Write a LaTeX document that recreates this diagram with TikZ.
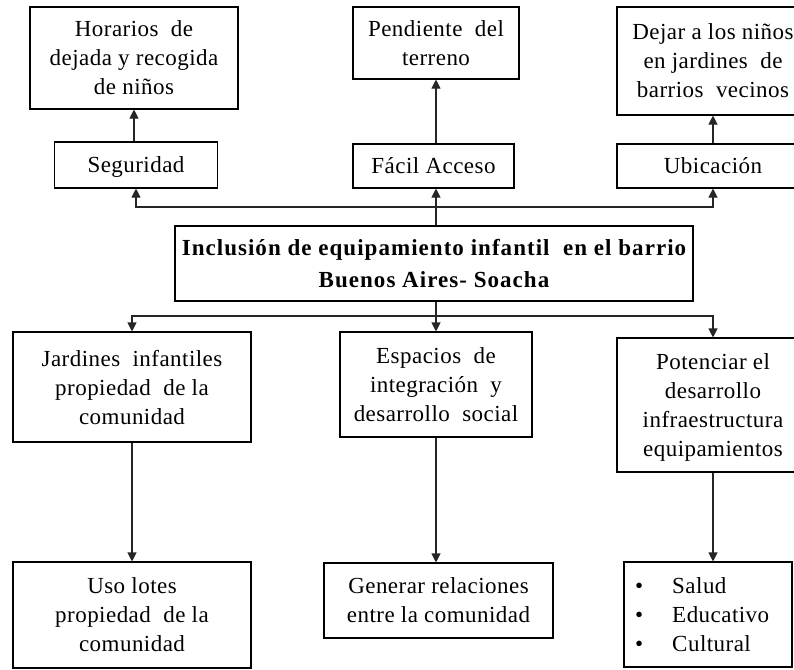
\documentclass[tikz,border=0pt]{standalone}
\usepackage{fontspec}
\setmainfont{Liberation Serif}[LetterSpace=2]
\newfontfamily\titlefont{Liberation Serif}[LetterSpace=4.5]
\usetikzlibrary{arrows.meta}
\begin{document}
\begin{tikzpicture}[x=1pt,y=-1pt,
  box/.style={draw, line width=1.1pt, inner sep=0pt, align=center, text depth=0pt,
    font=\fontsize{23}{29}\selectfont},
  conn/.style={line width=1.1pt, draw=black!85},
  arr/.style={conn, -{Triangle[length=9pt,width=9pt]}}]
\useasboundingbox (0,0) rectangle (794,669);
\clip (0,0) rectangle (794,669);
\fill[white] (0,0) rectangle (794,669);
% top row
\node[box, minimum width=208, minimum height=102] (hor) at (134,58) {Horarios~ de\\dejada y recogida\\de niños};
\node[box, minimum width=166, minimum height=72] (pen) at (436,43) {Pendiente~ del\\terreno};
\node[box, minimum width=192, minimum height=108] (dej) at (713,61) {Dejar a los niños\\en jardines~ de\\barrios~ vecinos};
% second row
\node[box, minimum width=163, minimum height=46] (seg) at (136,165) {Seguridad};
\node[box, minimum width=161, minimum height=44] (fac) at (433.5,166) {Fácil Acceso};
\node[box, minimum width=192, minimum height=44] (ubi) at (713,166) {Ubicación};
% main
\node[box, minimum width=518, minimum height=75, font=\fontsize{23}{32}\titlefont\bfseries] (main) at (434,263.5) {Inclusión de equipamiento infantil~ en el barrio\\Buenos Aires- Soacha};
% third row
\node[box, minimum width=238, minimum height=110] (jar) at (132,387) {Jardines~ infantiles\\propiedad~ de la\\comunidad};
\node[box, minimum width=192, minimum height=105] (esp) at (436,384.5) {Espacios~ de\\integración~ y\\desarrollo~ social};
\node[box, minimum width=192, minimum height=134] (pot) at (713,405) {Potenciar el\\desarrollo\\infraestructura\\equipamientos};
% bottom row
\node[box, minimum width=238, minimum height=106] (uso) at (132,615) {Uso lotes\\propiedad~ de la\\comunidad};
\node[box, minimum width=229, minimum height=75] (gen) at (438.5,600.5) {Generar relaciones\\entre la comunidad};
\node[box, minimum width=168, minimum height=105] (bul) at (708,614.5) {};
\node[anchor=west, inner sep=0pt, font=\fontsize{23}{29}\selectfont, align=left] (bullist) at (635,616.5)
  {\begin{tabular}{@{}l@{\hspace{29pt}}l@{}}\textbullet & Salud\\ \textbullet & Educativo\\ \textbullet & Cultural\end{tabular}};
% connectors
\coordinate (tb) at (436,207);
\coordinate (bb) at (436,316);
\draw[conn] (main.north -| tb) -- (tb);
\draw[arr] (tb) -| (seg.south);
\draw[arr] (tb) -- (tb |- fac.south);
\draw[arr] (tb) -| (ubi.south);
\draw[arr] (seg.north -| hor.south) -- (hor.south);
\draw[arr] (fac.north -| pen.south) -- (pen.south);
\draw[arr] (ubi.north) -- (dej.south);
\draw[conn] (main.south -| bb) -- (bb);
\draw[arr] (bb) -| (jar.north);
\draw[arr] (bb) -- (esp.north);
\draw[arr] (bb) -| (pot.north);
\draw[arr] (jar.south) -- (uso.north);
\draw[arr] (esp.south) -- (esp.south |- gen.north);
\draw[arr] (pot.south) -- (pot.south |- bul.north);
\end{tikzpicture}
\end{document}
